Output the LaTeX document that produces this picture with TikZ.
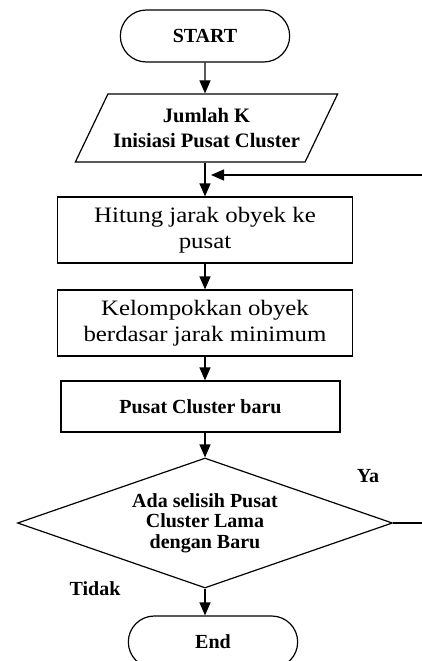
\documentclass[tikz,border=0pt]{standalone}
\usepackage{fontspec}
\setmainfont{Liberation Serif}
\newfontfamily\bookfont[FakeStretch=1.13]{Liberation Serif}
\usetikzlibrary{shapes.geometric,shapes.misc,arrows.meta}

\begin{document}
\begin{tikzpicture}[x=1pt, y=-1pt, >={Triangle[length=13pt,width=11pt]}, line width=1.2pt,
                    node distance=90pt,
                    term node/.style={rounded rectangle, draw, minimum width=176pt, minimum height=52pt,
                                      font=\fontsize{20}{21}\selectfont\bfseries},
                    io node/.style={trapezium, trapezium left angle=52, trapezium right angle=128,
                                    trapezium stretches=true, draw, minimum width=263pt, minimum height=68pt,
                                    inner sep=0pt, align=center, font=\fontsize{20.5}{25}\selectfont\bfseries},
                    proc node/.style={rectangle, draw, minimum width=295pt, minimum height=66pt,
                                      align=center, font=\fontsize{22}{26}\selectfont\bookfont},
                    new node/.style={rectangle, draw, minimum width=279pt, minimum height=51pt,
                                     font=\fontsize{20}{21}\selectfont\bfseries},
                    dec node/.style={diamond, aspect=2.9, draw, minimum width=375pt, minimum height=130pt,
                                     inner sep=0pt, align=center, font=\fontsize{20}{20.5}\selectfont\bfseries},
                    answer/.style={font=\fontsize{20}{21}\selectfont\bfseries}]

  \useasboundingbox (0,0) rectangle (422,661);
  \clip (0,0) rectangle (422,661);

  \node[term node] (start) at (205,36) {START};
  \node[io node] (input) [below of=start, node distance=92pt, xshift=1.5pt] {Jumlah K\\Inisiasi Pusat Cluster};
  \node[proc node] (hitung) [below of=start, node distance=194pt] {Hitung jarak obyek ke\\pusat};
  \node[proc node] (kelompok) [below of=hitung, node distance=93pt] {Kelompokkan obyek\\berdasar jarak minimum};
  \node[new node] (baru) [below of=kelompok, node distance=83.5pt, xshift=-4.5pt] {Pusat Cluster baru};
  \node[dec node] (cek) [below of=kelompok, node distance=200pt] {Ada selisih Pusat\\Cluster Lama\\dengan Baru};
  \node[term node] (end) [below of=cek, node distance=119pt, xshift=8pt] {End};

  \node[answer] (ya) at (368,476) {Ya};
  \node[answer] (tidak) at (95,589) {Tidak};

  \coordinate (keluar) at (422,523);
  \coordinate (kembali) at (422,175);

  % alur utama
  \draw[->] (start) -- (start |- input.north);
  \draw[->] (start |- input.south) -- (hitung);
  \draw[->] (hitung) -- (kelompok);
  \draw[->] (kelompok) -- (kelompok |- baru.north);
  \draw[->] (kelompok |- baru.south) -- (cek.north);
  \draw[->] (cek.south) -- (cek.south |- end.north);

  % perulangan
  \draw (cek.east) -- (keluar);
  \draw[->, shorten >=6pt] (kembali) -- (kembali -| hitung.north);
\end{tikzpicture}
\end{document}
